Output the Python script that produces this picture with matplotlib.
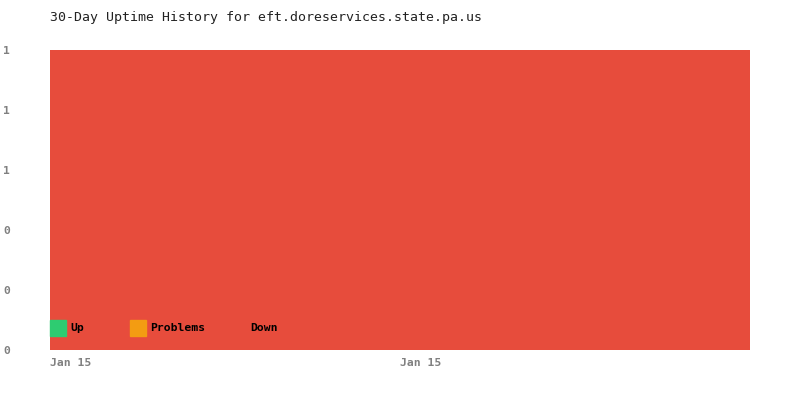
import matplotlib
matplotlib.use("Agg")
import matplotlib.pyplot as plt
import matplotlib.dates as mdates
from matplotlib.patches import Rectangle
import pandas as pd

# data: share of checks per state (stacked)
times = pd.to_datetime(["2024-01-15 00:00", "2024-01-15 12:00", "2024-01-16 00:00"])
up = [0, 0, 0]
problems = [0, 0, 0]
down = [1, 1, 1]
series_names = ["Up", "Problems", "Down"]
series_colors = ["#2ecc71", "#f39c12", "#e74c3c"]
y_ticks = [0, 0.2, 0.4, 0.6, 0.8, 1.0]
title = "30-Day Uptime History for eft.doreservices.state.pa.us"

plt.rcParams["font.family"] = ["DejaVu Sans Mono"]

fig = plt.figure(figsize=(8, 4), dpi=100)
ax = fig.add_axes([0.0625, 0.125, 0.875, 0.75])

ax.stackplot(times, up, problems, down, colors=series_colors, linewidth=0)
ax.set_xlim(times[0], times[-1])
ax.set_ylim(0, 1)

for s in ax.spines.values():
    s.set_visible(False)

ax.set_yticks(y_ticks)
ax.set_yticklabels([f"{v:.0f}" for v in y_ticks])
ax.set_xticks([times[0], times[1]])
ax.xaxis.set_major_formatter(mdates.DateFormatter("%b %d"))
ax.tick_params(axis="both", length=0, labelsize=8.2, labelcolor="#808080")
ax.tick_params(axis="y", pad=33.5)
ax.tick_params(axis="x", pad=6)
for lbl in ax.get_yticklabels():
    lbl.set_horizontalalignment("left")
    lbl.set_fontweight("bold")
for lbl in ax.get_xticklabels():
    lbl.set_horizontalalignment("left")
    lbl.set_fontweight("bold")

fig.text(50 / 800, 1 - 18 / 400, title, fontsize=9.5, color="#222222",
         ha="left", va="center")

# legend drawn as entries inside the plot, left edges in pixels
legend_x = [50, 130, 230]
for x_px, name, col in zip(legend_x, series_names, series_colors):
    x0 = x_px / 800
    fig.patches.append(Rectangle((x0, 1 - 336 / 400), 16 / 800, 16 / 400,
                                 transform=fig.transFigure, color=col,
                                 zorder=5))
    fig.text(x0 + 20 / 800, 1 - 328 / 400, name, fontsize=8.2,
             fontweight="bold", color="black", ha="left", va="center")

fig.savefig("out.png", dpi=100)
